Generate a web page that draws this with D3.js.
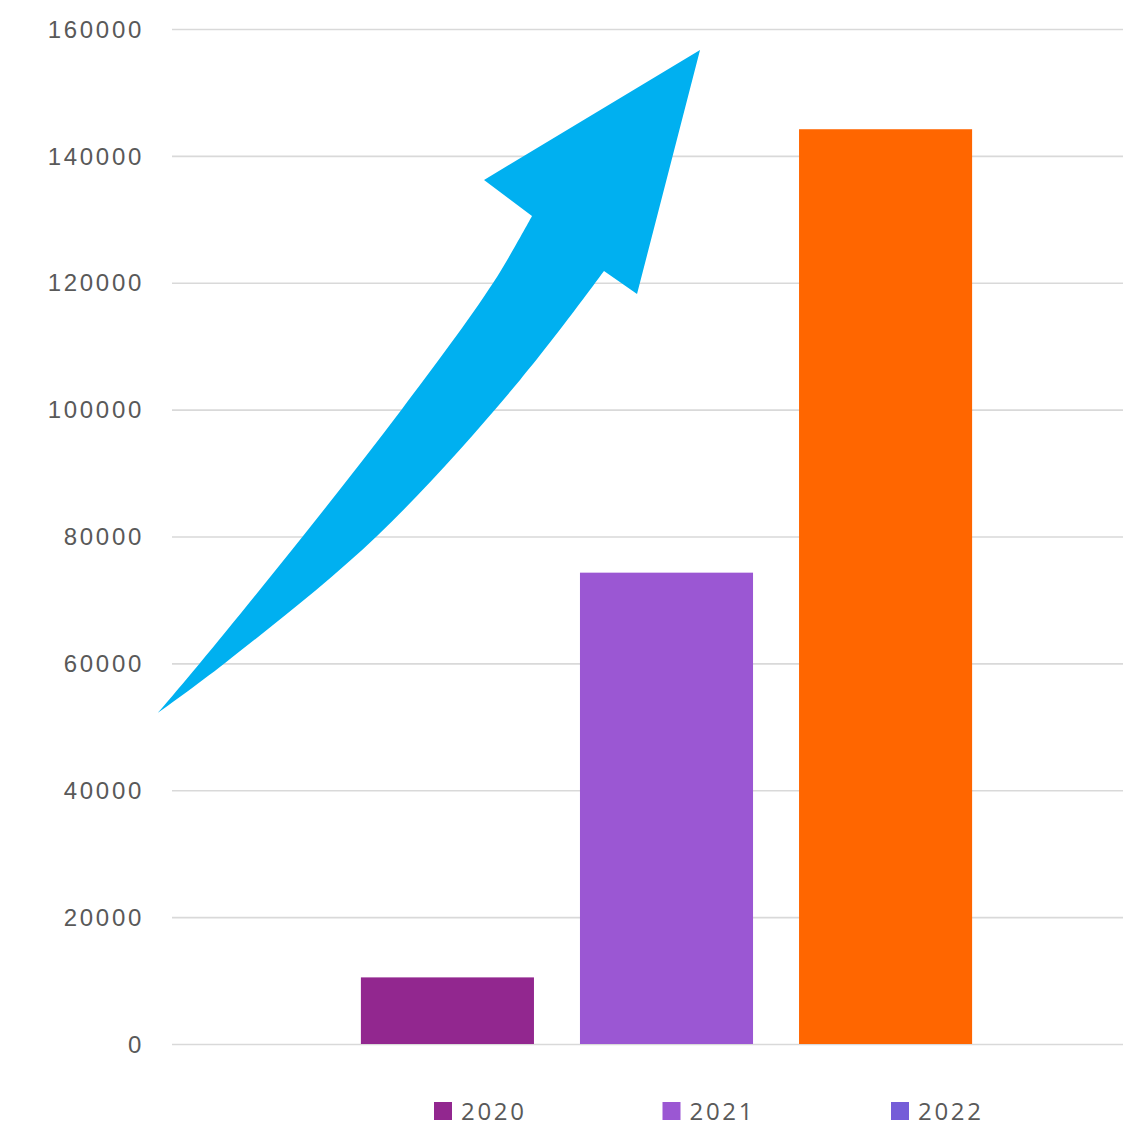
<!DOCTYPE html>
<html>
<head>
<meta charset="utf-8">
<script src="https://cdn.jsdelivr.net/npm/d3@7"></script>
<style>
  body { margin: 0; background: #fff; }
  svg { display: block; font-family: "Open Sans", sans-serif; }
</style>
</head>
<body>
<svg id="chart"></svg>
<script>
// data
var years = ["2020", "2021", "2022"]
var values = [10500, 74300, 144200]
var barColors = ["#92278F", "#9B57D3", "#FF6600"]
var legendColors = ["#92278F", "#9B57D3", "#755DD8"]
var yTicks = [0, 20000, 40000, 60000, 80000, 100000, 120000, 140000, 160000]

// arrow annotation, x as fraction of plot width, y in data units
var arrowLeftEdge = [[-0.0142, 52200], [0.0283, 60060], [0.1325, 80080], [0.2326, 100100], [0.3246, 119960], [0.3640, 130520]]
var arrowHead = [[0.3155, 136200], [0.5339, 156690], [0.4702, 118230]]
var arrowRightEdge = [[0.4368, 121850], [0.3519, 104670], [0.2073, 80080], [0.0536, 60060], [-0.0142, 52200]]

var dimensions = {
    width: 1123,
    height: 1122,
    margin: { top: 29, bottom: 78, left: 172, right: -38 }
}

var svg = d3.select("#chart")
    .attr("width", dimensions.width)
    .attr("height", dimensions.height)

var plotLeft = dimensions.margin.left
var plotRight = dimensions.width - dimensions.margin.right
var plotBottom = dimensions.height - dimensions.margin.bottom

var yScale = d3.scaleLinear()
    .domain([0, 160000])
    .range([plotBottom, dimensions.margin.top])

// single category, three clustered series
var xFrac = d3.scaleLinear().domain([0, 1]).range([plotLeft, plotRight])
var xScale = d3.scaleBand()
    .domain(years)
    .range([xFrac(0.191), xFrac(0.809)])
    .paddingInner(0.21)
    .paddingOuter(0)

//gridlines + labels
var yAxis = svg.append("g")
    .attr("transform", `translate(${plotLeft},0)`)
    .call(d3.axisLeft(yScale).tickValues(yTicks).tickSize(-(plotRight - plotLeft)).tickPadding(28).tickFormat(d3.format("d")))
yAxis.select(".domain").remove()
yAxis.selectAll(".tick line").attr("stroke", "#D9D9D9").attr("stroke-width", 1.6)
yAxis.selectAll(".tick text")
    .attr("fill", "#595959")
    .style("font-size", "24px")
    .style("letter-spacing", "2.7px")
    .attr("dy", "0.34em")

svg.append("g")
    .selectAll("rect")
    .data(values)
    .enter()
    .append("rect")
    .attr("x", (d, i) => xScale(years[i]))
    .attr("y", d => yScale(d))
    .attr("width", xScale.bandwidth())
    .attr("height", d => yScale(0) - yScale(d))
    .attr("fill", (d, i) => barColors[i])

// arrow
var edgeLine = d3.line()
    .x(d => xFrac(d[0]))
    .y(d => yScale(d[1]))
    .curve(d3.curveCatmullRom.alpha(0.5))
var headPts = arrowHead.map(d => "L" + xFrac(d[0]) + "," + yScale(d[1])).join("")
var arrowPath = edgeLine(arrowLeftEdge) + headPts + edgeLine(arrowRightEdge).replace(/^M/, "L") + "Z"
svg.append("path")
    .attr("d", arrowPath)
    .attr("fill", "#00B0F0")

// legend
var legend = svg.append("g")
    .selectAll("g")
    .data(years)
    .enter()
    .append("g")
    .attr("transform", (d, i) => `translate(${434 + i * 228.5},1102)`)
legend.append("rect")
    .attr("width", 18)
    .attr("height", 18)
    .attr("fill", (d, i) => legendColors[i])
legend.append("text")
    .attr("x", 27)
    .attr("y", 18)
    .attr("fill", "#595959")
    .style("font-size", "24px")
    .style("letter-spacing", "2.7px")
    .text(d => d)
</script>
</body>
</html>
